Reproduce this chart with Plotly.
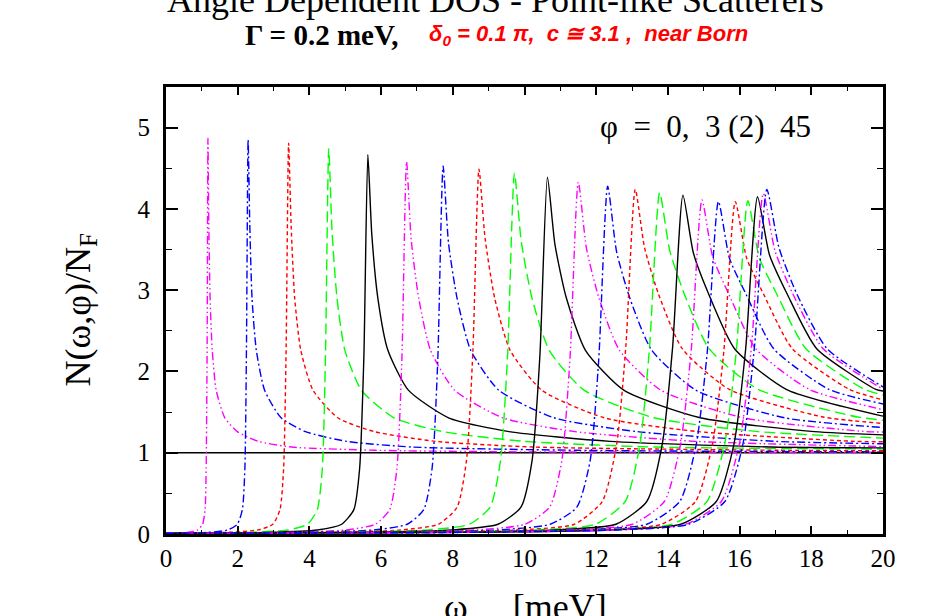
import plotly.graph_objects as go

# angle labels (degrees) of the curves with a coherence peak
phi_deg = [3, 5, 7, 9, 11, 13, 15, 17, 19, 21, 23, 25, 27, 29, 31, 33, 35, 37, 39, 41, 43, 45]

# omega [meV] and N(omega,phi)/N_F, one pair of lists per angle
w03 = [0, 0.59, 0.88, 1.02, 1.09, 1.12, 1.147, 1.17, 1.193, 1.23, 1.29, 1.40, 1.64, 1.99, 2.57, 3.51, 5.85, 9.36, 20]
n03 = [0.01, 0.02, 0.05, 0.12, 0.30, 0.80, 2.29, 4.87, 3.85, 2.90, 2.26, 1.77, 1.43, 1.26, 1.14, 1.07, 1.03, 1.012, 1.005]
w05 = [0, 1.15, 1.72, 1.99, 2.13, 2.20, 2.244, 2.29, 2.336, 2.40, 2.52, 2.75, 3.21, 3.89, 5.04, 6.87, 11.45, 18.32, 20]
n05 = [0.01, 0.02, 0.05, 0.12, 0.30, 0.80, 2.28, 4.85, 3.83, 2.90, 2.26, 1.77, 1.43, 1.26, 1.14, 1.07, 1.03, 1.012, 1.011]
w07 = [0, 1.71, 2.57, 2.98, 3.18, 3.28, 3.35, 3.42, 3.49, 3.59, 3.76, 4.10, 4.79, 5.81, 7.52, 10.26, 17.10, 20]
n07 = [0.01, 0.02, 0.05, 0.12, 0.30, 0.80, 2.26, 4.81, 3.80, 2.90, 2.26, 1.77, 1.43, 1.26, 1.14, 1.07, 1.03, 1.025]
w09 = [0, 2.27, 3.41, 3.95, 4.22, 4.36, 4.45, 4.54, 4.63, 4.77, 4.99, 5.45, 6.36, 7.72, 9.99, 13.62, 20]
n09 = [0.01, 0.02, 0.05, 0.12, 0.30, 0.80, 2.23, 4.74, 3.74, 2.90, 2.26, 1.77, 1.43, 1.26, 1.14, 1.07, 1.045]
w11 = [0, 2.82, 4.22, 4.90, 5.24, 5.40, 5.52, 5.63, 5.74, 5.91, 6.19, 6.76, 7.88, 9.57, 12.39, 16.89, 20]
n11 = [0.01, 0.02, 0.05, 0.12, 0.30, 0.80, 2.19, 4.67, 3.69, 2.90, 2.26, 1.77, 1.43, 1.26, 1.14, 1.07, 1.06]
w13 = [0, 3.36, 5.03, 5.84, 6.24, 6.44, 6.58, 6.71, 6.84, 7.05, 7.38, 8.05, 9.39, 11.41, 14.76, 20]
n13 = [0.01, 0.02, 0.05, 0.12, 0.30, 0.80, 2.15, 4.58, 3.62, 2.90, 2.26, 1.77, 1.43, 1.26, 1.14, 1.075]
w15 = [0, 3.87, 5.80, 6.73, 7.19, 7.42, 7.58, 7.73, 7.88, 8.12, 8.50, 9.28, 10.82, 13.14, 17.01, 20]
n15 = [0.01, 0.02, 0.05, 0.12, 0.30, 0.80, 2.13, 4.53, 3.58, 2.90, 2.26, 1.77, 1.43, 1.26, 1.14, 1.11]
w17 = [0, 4.37, 6.55, 7.60, 8.12, 8.38, 8.56, 8.73, 8.90, 9.17, 9.60, 10.48, 12.22, 14.84, 19.21, 20]
n17 = [0.01, 0.02, 0.05, 0.12, 0.33, 0.90, 2.25, 4.49, 3.64, 2.90, 2.26, 1.77, 1.43, 1.26, 1.14, 1.135]
w19 = [0, 4.86, 7.29, 8.46, 9.04, 9.33, 9.53, 9.72, 9.91, 10.21, 10.69, 11.66, 13.61, 16.52, 20]
n19 = [0.01, 0.02, 0.05, 0.12, 0.33, 0.90, 2.22, 4.44, 3.60, 2.90, 2.26, 1.77, 1.43, 1.26, 1.18]
w21 = [0, 5.32, 7.98, 9.26, 9.90, 10.21, 10.43, 10.64, 10.85, 11.17, 11.70, 12.77, 14.90, 18.09, 20]
n21 = [0.01, 0.02, 0.05, 0.12, 0.33, 0.90, 2.20, 4.39, 3.56, 2.90, 2.26, 1.77, 1.43, 1.26, 1.22]
w23 = [0, 5.75, 8.63, 10.01, 10.70, 11.04, 11.27, 11.50, 11.73, 12.08, 12.65, 13.80, 16.10, 19.55, 20]
n23 = [0.01, 0.02, 0.05, 0.12, 0.33, 0.90, 2.17, 4.33, 3.51, 2.90, 2.26, 1.77, 1.43, 1.26, 1.255]
w25 = [0, 6.16, 9.24, 10.72, 11.46, 11.83, 12.07, 12.32, 12.57, 12.94, 13.55, 14.78, 17.25, 20]
n25 = [0.01, 0.02, 0.05, 0.12, 0.33, 0.90, 2.14, 4.28, 3.47, 2.90, 2.26, 1.77, 1.43, 1.31]
w27 = [0, 6.55, 9.82, 11.39, 12.17, 12.57, 12.83, 13.09, 13.35, 13.74, 14.40, 15.71, 18.33, 20]
n27 = [0.01, 0.02, 0.05, 0.12, 0.40, 1.10, 2.33, 4.24, 3.52, 2.95, 2.28, 1.78, 1.44, 1.36]
w29 = [0, 6.89, 10.33, 11.98, 12.81, 13.22, 13.49, 13.77, 14.05, 14.46, 15.15, 16.52, 19.28, 20]
n29 = [0.01, 0.02, 0.05, 0.12, 0.40, 1.10, 2.31, 4.20, 3.49, 2.95, 2.28, 1.78, 1.44, 1.40]
w31 = [0, 7.21, 10.82, 12.55, 13.41, 13.84, 14.13, 14.42, 14.71, 15.14, 15.86, 17.30, 20]
n31 = [0.01, 0.02, 0.05, 0.12, 0.40, 1.10, 2.29, 4.17, 3.46, 2.95, 2.28, 1.78, 1.45]
w33 = [0, 7.48, 11.21, 13.01, 13.90, 14.35, 14.65, 14.95, 15.25, 15.70, 16.45, 17.94, 20]
n33 = [0.01, 0.02, 0.05, 0.12, 0.40, 1.10, 2.26, 4.11, 3.41, 2.95, 2.28, 1.78, 1.53]
w35 = [0, 7.71, 11.56, 13.41, 14.33, 14.79, 15.10, 15.41, 15.72, 16.18, 16.95, 18.49, 20]
n35 = [0.01, 0.02, 0.05, 0.12, 0.40, 1.10, 2.25, 4.09, 3.39, 2.95, 2.28, 1.78, 1.60]
w37 = [0, 7.94, 11.91, 13.82, 14.77, 15.24, 15.56, 15.88, 16.20, 16.67, 17.47, 19.06, 20]
n37 = [0.01, 0.02, 0.05, 0.12, 0.40, 1.10, 2.25, 4.09, 3.39, 2.95, 2.28, 1.78, 1.65]
w39 = [0, 8.12, 12.17, 14.12, 15.09, 15.58, 15.91, 16.23, 16.55, 17.04, 17.85, 19.48, 20]
n39 = [0.01, 0.02, 0.05, 0.12, 0.40, 1.10, 2.26, 4.10, 3.40, 2.95, 2.28, 1.78, 1.71]
w41 = [0, 8.25, 12.38, 14.36, 15.35, 15.84, 16.17, 16.50, 16.83, 17.33, 18.15, 19.80, 20]
n41 = [0.01, 0.02, 0.05, 0.12, 0.40, 1.10, 2.28, 4.15, 3.44, 2.95, 2.28, 1.78, 1.76]
w43 = [0, 8.33, 12.50, 14.49, 15.49, 15.99, 16.33, 16.66, 16.99, 17.49, 18.33, 20]
n43 = [0.01, 0.02, 0.05, 0.12, 0.40, 1.10, 2.30, 4.19, 3.48, 2.95, 2.28, 1.78]
w45 = [0, 8.38, 12.57, 14.58, 15.59, 16.09, 16.42, 16.76, 17.10, 17.60, 18.44, 20]
n45 = [0.01, 0.02, 0.05, 0.12, 0.40, 1.10, 2.33, 4.24, 3.52, 2.95, 2.28, 1.81]

# phi = 0 (node): normal-state value
w00 = [0, 20]
n00 = [1.0, 1.0]

x_ticks = [0, 2, 4, 6, 8, 10, 12, 14, 16, 18, 20]
y_ticks = [0, 1, 2, 3, 4, 5]

curves = [(w03, n03), (w05, n05), (w07, n07), (w09, n09), (w11, n11), (w13, n13),
          (w15, n15), (w17, n17), (w19, n19), (w21, n21), (w23, n23), (w25, n25),
          (w27, n27), (w29, n29), (w31, n31), (w33, n33), (w35, n35), (w37, n37),
          (w39, n39), (w41, n41), (w43, n43), (w45, n45)]

# style cycle: magenta dash-dot-dot, blue dash-dot, red dots, green long dash, black solid
styles = [
    dict(color="#ff00ff", dash="8px,3px,1.5px,3px,1.5px,3px"),
    dict(color="#0000ff", dash="8px,3px,2px,3px"),
    dict(color="#ff0000", dash="4px,3px"),
    dict(color="#00ff00", dash="11px,5px"),
    dict(color="#000000", dash="solid"),
]

fig = go.Figure()
fig.add_trace(go.Scatter(x=w00, y=n00, mode="lines",
                         line=dict(color="black", width=1.4), hoverinfo="skip"))
for i, (w, n) in enumerate(curves):
    st = styles[i % 5]
    fig.add_trace(go.Scatter(x=w, y=n, mode="lines", name=f"phi={phi_deg[i]}",
                             line=dict(color=st["color"], dash=st["dash"], width=1.4,
                                       shape="spline", smoothing=0.6),
                             hoverinfo="skip"))

serif = "Liberation Serif, Times New Roman, serif"
sans = "Liberation Sans, Arial, sans-serif"

axis_common = dict(showline=True, linewidth=3, linecolor="black", mirror="allticks",
                   ticks="inside", tickcolor="black", tickwidth=1.5, showgrid=False,
                   zeroline=False, tickfont=dict(family=serif, size=25, color="black"))

fig.update_xaxes(range=[0, 20], tickvals=x_ticks, ticklen=8,
                 minor=dict(ticks="inside", dtick=1, ticklen=4, tickcolor="black", tickwidth=1.2),
                 ticklabelstandoff=0, **axis_common)
fig.update_yaxes(range=[0, 5.5], tickvals=y_ticks, ticklen=12,
                 minor=dict(ticks="inside", dtick=0.5, ticklen=6, tickcolor="black", tickwidth=1.2),
                 ticklabelstandoff=8, **axis_common)

annotations = [
    dict(text="Angle Dependent DOS - Point-like Scatterers", xref="paper", yref="paper",
         x=0.460, y=1.1454, xanchor="center", yanchor="bottom", showarrow=False,
         font=dict(family=serif, size=36, color="black")),
    dict(text="<b>Γ = 0.2 meV,</b>", xref="paper", yref="paper",
         x=(243 - 166) / 717, y=1.076, xanchor="left", yanchor="bottom", showarrow=False,
         font=dict(family=serif, size=29, color="black")),
    dict(text="<b><i>δ<sub>0</sub> = 0.1 π,\u00a0\u00a0c ≅ 3.1 ,\u00a0\u00a0near Born</i></b>",
         xref="paper", yref="paper",
         x=(427 - 166) / 717, y=1.080, xanchor="left", yanchor="bottom", showarrow=False,
         font=dict(family=sans, size=22, color="#ff0000")),
    dict(text="φ\u00a0 =\u00a0 0,\u00a0 3 (2)\u00a0 45", xref="paper", yref="paper",
         x=0.753, y=0.869, xanchor="center", yanchor="bottom", showarrow=False,
         font=dict(family=serif, size=31, color="black")),
    dict(text="N(ω,φ)/N<sub>F</sub>", xref="paper", yref="paper",
         x=(80 - 166) / 717, y=0.5, xanchor="center", yanchor="middle", textangle=-90,
         showarrow=False, font=dict(family=serif, size=36, color="black")),
    dict(text="ω\u00a0\u00a0\u00a0\u00a0\u00a0[meV]", xref="paper", yref="paper",
         x=0.502, y=(534 - 585) / 447, xanchor="center", yanchor="top", showarrow=False,
         font=dict(family=serif, size=36, color="black")),
]

fig.update_layout(width=925, height=616, margin=dict(l=166, r=42, t=87, b=82),
                  paper_bgcolor="white", plot_bgcolor="white", showlegend=False,
                  annotations=annotations)

fig.write_html("out.html")
